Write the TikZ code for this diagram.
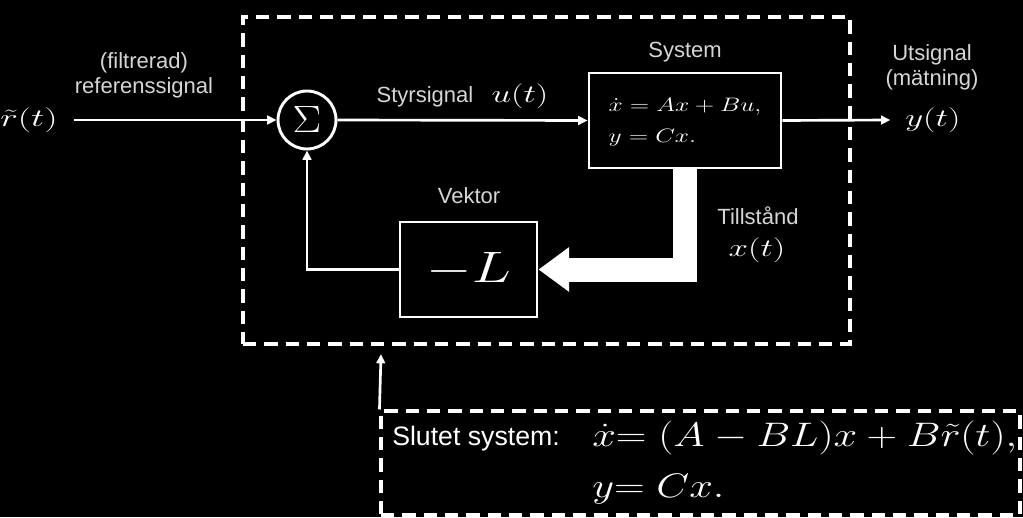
\documentclass[tikz,border=0pt]{standalone}
\usepackage{fix-cm}
\usepackage{fontspec}
\setmainfont{Liberation Sans}
\usepackage{graphicx}
\usetikzlibrary{arrows.meta,calc}
\newcommand{\mstretch}[2]{\scalebox{#1}[1]{#2}}
\definecolor{lgray}{HTML}{D6D6D6}
\begin{document}
\begin{tikzpicture}[x=0.75pt,y=-0.75pt,
  lbl/.style={text=lgray, font=\fontsize{16.5pt}{18.75pt}\selectfont, align=center, inner sep=0pt},
  mth/.style={text=white, inner sep=0pt, font=\fontsize{18.75pt}{20pt}\selectfont},
  sig/.style={draw=white, line width=2pt, -{Triangle[length=7pt,width=6.5pt]}},
  blk/.style={draw=white, line width=2.2pt, fill=black, inner sep=0pt},
  dbox/.style={draw=white, line width=2.3pt, dash pattern=on 10pt off 6pt, inner sep=0pt}]
\fill[black] (0,0) rectangle (1023,517);
\useasboundingbox (0,0) rectangle (1023,517);

% dashed boxes
\node[dbox, minimum width=455.25pt, minimum height=245.25pt] (ctrl) at (546.5,180.5) {};
\node[dbox, minimum width=479.25pt, minimum height=78pt] (low) at (700.5,463) {};

% blocks
\node[blk, circle, minimum size=43.5pt, text=white, font=\fontsize{28.5pt}{30pt}\selectfont] (sum) at (307,120) {\mstretch{1.13}{$\Sigma$}};
\node[blk, minimum width=144pt, minimum height=71.25pt, text=white,
      font=\fontsize{14.6pt}{23.25pt}\selectfont] (sys) at (685,120.5)
  {\mstretch{1.31}{\begin{tabular}{@{}l@{}}$\dot x = Ax + Bu,$\\ $y = Cx.$\end{tabular}}};
\node[blk, minimum width=102.75pt, minimum height=71.25pt, text=white,
      font=\fontsize{33pt}{36pt}\selectfont] (Lb) at (468.5,269.5) {\mstretch{1.33}{$-L$}};

% signals
\node[mth, anchor=west] (r) at (0,120) {\mstretch{1.5}{$\tilde r(t)$}};
\draw[sig] ([xshift=12pt]r.east) -- (sum.west);
\draw[sig] (sum.east) -- (sys.west);
\node[mth, anchor=west] (yt) at (905,120) {\mstretch{1.4}{$y(t)$}};
\draw[sig] (sys.east) -- ([xshift=-11pt]yt.west);
\draw[sig, line join=miter] (Lb.west) -- (sum.south |- Lb.west) -- (sum.south);
\draw[white, line width=18pt, line join=miter, -{Triangle[length=23pt,width=32pt]}]
  (sys.south) |- (Lb.east);
\coordinate (gap) at (381,354);
\draw[sig] (low.north west) -- (gap);

% labels
\node[lbl] (filt) at (144,75) {(filtrerad)\\referenssignal};
\node[lbl] (styr) at (425,97) {Styrsignal};
\node[mth] (ut) at (520,96) {\mstretch{1.4}{$u(t)$}};
\node[lbl] (syslbl) at (685,52) {System};
\node[lbl] (utsig) at (932,67) {Utsignal\\(mätning)};
\node[lbl] (vek) at (469,196) {Vektor};
\node[lbl] (till) at (758,216) {Tillstånd};
\node[mth] (xt) at (757,250) {\mstretch{1.4}{$x(t)$}};

% closed loop
\node[text=white, inner sep=0pt, anchor=base west, font=\fontsize{20pt}{22pt}\selectfont] (slut) at (392,445) {Slutet system:};
\node[text=white, inner sep=0pt, anchor=base west, font=\fontsize{25.5pt}{28pt}\selectfont] (eq1) at (592,446)
  {\mstretch{1.25}{${\dot x}{=}\;(A-BL)x+B\tilde r(t),$}};
\node[text=white, inner sep=0pt, anchor=base west, font=\fontsize{25.5pt}{28pt}\selectfont] (eq2) at (592,497)
  {\mstretch{1.25}{${y}{=}\;Cx.$}};
\end{tikzpicture}
\end{document}
